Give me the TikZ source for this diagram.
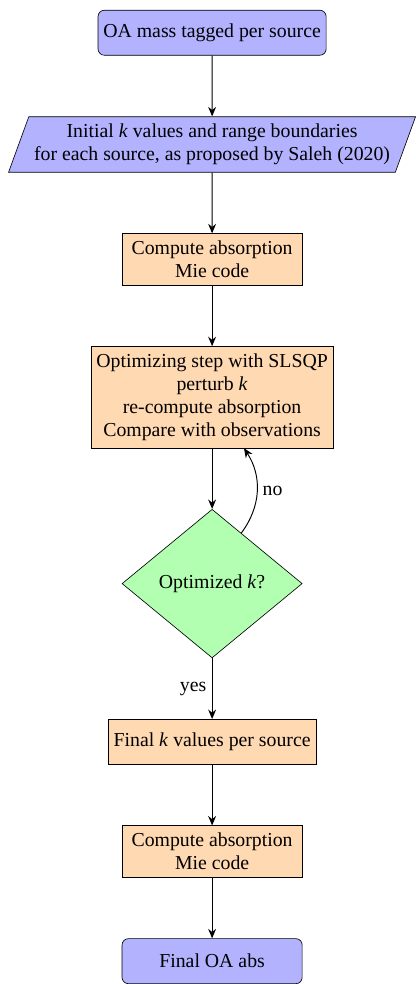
\documentclass[tikz,border=0pt]{standalone}
\usepackage{fontspec}
\setmainfont{Liberation Serif}
\usetikzlibrary{arrows.meta, positioning, shapes.geometric, calc}

\begin{document}
\begin{tikzpicture}[
    node distance=1.35cm,
    font=\fontsize{12.5}{14.5}\selectfont,
    startstop/.style={rectangle, rounded corners, draw=black, fill=blue!30, minimum width=4cm, minimum height=1cm, align=center},
    io/.style={trapezium, trapezium left angle=70, trapezium right angle=110, draw=black, fill=blue!30, minimum height=1cm, inner ysep=4.6pt, align=center},
    process/.style={rectangle, draw=black, fill=orange!30, minimum width=4cm, minimum height=1cm, inner ysep=4.6pt, align=center},
    decision/.style={diamond, aspect=1.2, draw=black, fill=green!30, minimum width=4cm, minimum height=3.3cm, inner sep=0pt, align=center},
    arrow/.style={-{Stealth[length=6pt, width=5pt, inset=2pt]}, semithick}
]

% Input
\node[startstop] (start) {OA mass tagged per source};
\node[io, below=of start] (in1) {Initial \textit{k} values and range boundaries\\for each source, as proposed by Saleh (2020)};

% Optimization loop
\node[process, below=of in1] (pro1) {Compute absorption\\Mie code};
\node[process, below=of pro1] (pro2) {Optimizing step with SLSQP\\perturb \textit{k}\\re-compute absorption\\Compare with observations};
\node[decision, below=of pro2] (dec1) {Optimized \textit{k}?};

% Output
\node[process, below=of dec1] (pro3) {Final \textit{k} values per source};
\node[process, below=of pro3] (pro4) {Compute absorption\\Mie code};
\node[startstop, below=of pro4] (stop) {Final OA abs};

% Arrows
\draw[arrow] (start) -- (in1);
\draw[arrow] (in1) -- (pro1);
\draw[arrow] (pro1) -- (pro2);
\draw[arrow] (pro2) -- (dec1);
\draw[arrow] (dec1.60) to[bend right=35] node[right] {no} (pro2.-58);
\draw[arrow] (dec1) -- node[left] {yes} (pro3);
\draw[arrow] (pro3) -- (pro4);
\draw[arrow] (pro4) -- (stop);

\useasboundingbox ($(start.north)+(-4.71,0.22)$) rectangle ++(9.12,-21.67);

\end{tikzpicture}
\end{document}
